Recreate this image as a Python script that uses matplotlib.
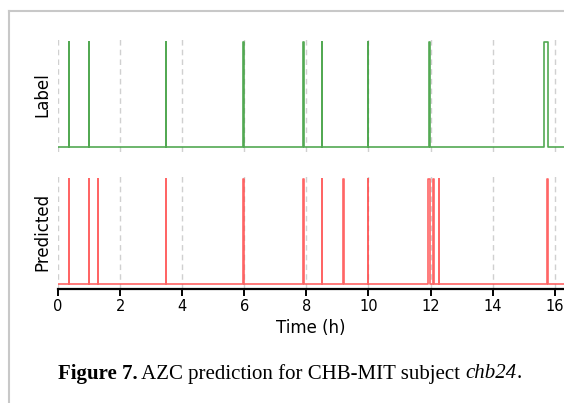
import numpy as np
import matplotlib
matplotlib.use("Agg")
import matplotlib.pyplot as plt
from matplotlib.lines import Line2D

plt.rcParams["font.family"] = ["DejaVu Sans"]

# Seizure intervals (hours)
label_starts = [0.345, 1.005, 3.475, 5.975, 7.905, 8.515, 9.975, 11.965, 15.66]
label_ends   = [0.350, 1.010, 3.480, 5.985, 7.910, 8.520, 9.980, 11.975, 15.79]
pred_starts  = [0.345, 1.005, 1.285, 3.475, 5.975, 7.905, 8.515, 9.195, 9.975, 11.935, 12.095, 12.265, 15.765]
pred_ends    = [0.350, 1.010, 1.290, 3.480, 5.980, 7.910, 8.520, 9.200, 9.980, 11.990, 12.100, 12.270, 15.770]
t_end = 16.3
xticks = [0, 2, 4, 6, 8, 10, 12, 14, 16]
caption_parts = [("Figure 7.", "bold", "normal"),
                 (" AZC prediction for CHB-MIT subject ", "normal", "normal"),
                 ("chb24", "normal", "italic"),
                 (".", "normal", "normal")]


def step_series(starts, ends, tmax):
    t = [0.0]
    v = [0.0]
    for s, e in zip(starts, ends):
        t += [s, s, e, e]
        v += [0, 1, 1, 0]
    t.append(tmax)
    v.append(0)
    return np.array(t), np.array(v)


W, H = 564, 403
fig = plt.figure(figsize=(W / 100, H / 100), dpi=100)

# frame lines
fig.add_artist(Line2D([9 / W, 9 / W], [0, 1 - 11 / H], color="#c8c8c8", lw=1.5,
                      transform=fig.transFigure))
fig.add_artist(Line2D([9 / W, 1], [1 - 11 / H, 1 - 11 / H], color="#c8c8c8", lw=1.5,
                      transform=fig.transFigure))

left = 58 / W
width = 1 - left
ax1 = fig.add_axes([left, 1 - 152 / H, width, 115 / H])
ax2 = fig.add_axes([left, 1 - 289 / H, width, 115 / H], sharex=ax1)

tl, vl = step_series(label_starts, label_ends, t_end)
tp, vp = step_series(pred_starts, pred_ends, t_end)

ax1.plot(tl, vl, color="#40a040", lw=1.2, alpha=0.9)
ax2.plot(tp, vp, color="#ff4a4a", lw=1.2, alpha=0.85)

for ax in (ax1, ax2):
    ax.set_ylim(-0.05, 1.05)
    ax.set_xlim(0, t_end)
    ax.set_yticks([])
    for x in xticks:
        ax.axvline(x, color="#d0d0d0", ls=(0, (4, 3)), lw=1.0, zorder=0)
    for s in ("top", "right", "left", "bottom"):
        ax.spines[s].set_visible(False)

ax1.tick_params(axis="x", bottom=False, labelbottom=False)
ax2.spines["bottom"].set_visible(True)
ax2.spines["bottom"].set_linewidth(1.6)
ax2.set_xticks(xticks)
ax2.tick_params(axis="x", length=5, width=1.4, labelsize=10.5, pad=2.5)
ax2.set_xlabel("Time (h)", fontsize=12, labelpad=3.5)
ax1.set_ylabel("Label", fontsize=12, labelpad=5)
ax2.set_ylabel("Predicted", fontsize=12, labelpad=5)

# caption
renderer = fig.canvas.get_renderer()
texts = []
for s, wgt, sty in caption_parts:
    t = fig.text(0, 1 - 374 / H, s, fontsize=15, family="Liberation Serif",
                 weight=wgt, style=sty, va="center", ha="left")
    texts.append(t)
widths = [t.get_window_extent(renderer).width for t in texts]
total = sum(widths)
x0 = 290 - total / 2
for t, w in zip(texts, widths):
    t.set_x(x0 / W)
    x0 += w

fig.savefig("out.png", dpi=100)
